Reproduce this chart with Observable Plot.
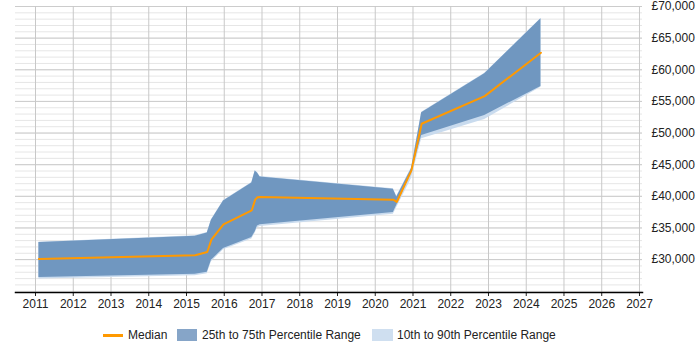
<!DOCTYPE html>
<html>
<head>
<meta charset="utf-8">
<script src="https://cdn.jsdelivr.net/npm/d3@7"></script>
<script src="https://cdn.jsdelivr.net/npm/@observablehq/plot@0.6"></script>
<style>
  body { margin: 0; background: #fff; font-family: "Liberation Sans", Arial, sans-serif; }
  #wrap { position: relative; width: 700px; height: 350px; }
  #legend { position: absolute; left: 0; top: 327px; height: 16px; font-size: 12px; color: #222; }
  .item { position: absolute; top: 0; line-height: 16px; white-space: nowrap; }
  .sw { position: absolute; }
</style>
</head>
<body>
<div id="wrap">
  <div id="chart"></div>
  <div id="legend">
    <div class="sw" style="left:103px;top:7px;width:20px;height:3px;background:#ff9900"></div>
    <div class="item" style="left:128px">Median</div>
    <div class="sw" style="left:177px;top:2px;width:20px;height:12px;background:#86a5c8"></div>
    <div class="item" style="left:202px">25th to 75th Percentile Range</div>
    <div class="sw" style="left:372px;top:2px;width:21px;height:12px;background:#cfdff0"></div>
    <div class="item" style="left:397px">10th to 90th Percentile Range</div>
  </div>
</div>
<script>
// Dates (decimal years) and percentile values
const dates  = [2011.09, 2015.23, 2015.55, 2015.66, 2015.98, 2016.73, 2016.82, 2016.88, 2016.95, 2020.48, 2020.57, 2020.96, 2021.23, 2022.90, 2024.39];
const median = [30100, 30680, 31200, 33160, 35580, 37790, 39470, 39850, 39900, 39470, 39100, 44100, 51470, 55840, 62690];
const p25    = [27160, 27680, 28000, 29890, 31740, 33480, 34400, 35320, 35500, 37430, 38580, 43840, 49630, 52790, 57370];
const p75    = [32690, 33690, 34210, 36210, 39260, 42100, 44000, 43680, 43050, 41100, 39900, 44370, 53210, 59370, 68060];
const p10    = [26950, 27450, 27750, 29650, 31550, 33250, 34200, 35050, 35250, 37150, 38250, 42800, 49100, 52150, 57250];
const p90    = [32750, 33750, 34300, 36300, 39350, 42200, 44100, 43750, 43150, 41200, 40000, 44500, 53300, 59450, 68100];
const yearTicks = d3.range(2011, 2028);
const yMajor = d3.range(30000, 70001, 5000);
const yMinor = d3.range(25000, 70001, 1000);

const rows = dates.map((d, i) => ({date: d, median: median[i], p10: p10[i], p25: p25[i], p75: p75[i], p90: p90[i]}));

const chart = Plot.plot({
  width: 700,
  height: 318,
  marginTop: 6,
  marginBottom: 26,
  marginLeft: 15,
  marginRight: 58,
  style: {fontFamily: "'Liberation Sans', Arial, sans-serif", fontSize: "12px", color: "#222", background: "#fff"},
  x: {type: "linear", domain: [2010.47, 2027.08]},
  y: {domain: [24800, 70000]},
  marks: [
    Plot.ruleY(yMinor, {stroke: "#e6e6e6", strokeWidth: 1}),
    Plot.ruleY(yMajor, {stroke: "#cccccc", strokeWidth: 1}),
    Plot.ruleX(yearTicks, {stroke: "#c8c8c8", strokeWidth: 1}),
    Plot.areaY(rows, {x: "date", y1: "p10", y2: "p90", fill: "#c9dbee", fillOpacity: 1}),
    Plot.areaY(rows, {x: "date", y1: "p25", y2: "p75", fill: "#7097c0", fillOpacity: 1}),
    Plot.lineY(rows, {x: "date", y: "median", stroke: "#ff9900", strokeWidth: 2}),
    Plot.axisX({ticks: yearTicks, tickFormat: d => String(d), tickSize: 4, tickPadding: 3, label: null, fill: "#222"}),
    Plot.axisY({anchor: "right", ticks: yMajor, tickFormat: d => "£" + d3.format(",")(d), tickSize: 0, tickPadding: 9, label: null, fill: "#222"}),
    Plot.frame({anchor: "bottom", stroke: "#000", strokeWidth: 1.5})
  ]
});
document.getElementById("chart").appendChild(chart);
</script>
</body>
</html>
